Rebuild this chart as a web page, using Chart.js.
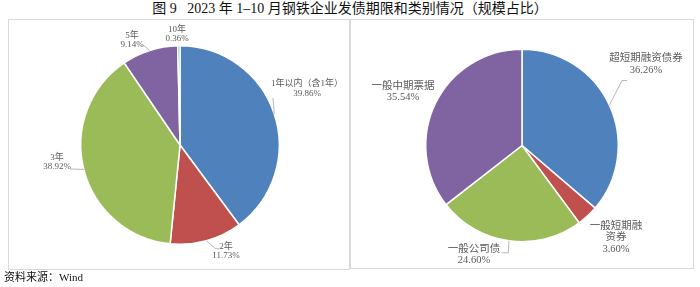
<!DOCTYPE html>
<html>
<head>
<meta charset="utf-8">
<script src="https://cdn.jsdelivr.net/npm/chart.js@4.4.0/dist/chart.umd.min.js"></script>
<style>
    html, body { margin: 0; padding: 0; background: #fff; }
    body {
        width: 700px; height: 287px; position: relative; overflow: hidden;
        font-family: "Liberation Serif", "Noto Sans CJK SC", serif;
    }
    .title {
        position: absolute; top: 0; left: 0; width: 700px; text-align: center;
        font-size: 14px; line-height: 18px; color: #111; font-weight: 400;
    }
    .panel { position: absolute; border: 1px solid #d9d9d9; box-sizing: border-box; }
    #p1 { left: 8px; top: 19px; width: 342px; height: 251px; }
    #p2 { left: 350px; top: 19px; width: 344px; height: 250px; }
    canvas { position: absolute; left: 0; top: 0; }
    .source {
        position: absolute; left: 4px; top: 269px; font-size: 11px; line-height: 16px; color: #111;
    }
</style>
</head>
<body>
<div class="title">图 9&nbsp;&nbsp;&nbsp;2023 年 1–10 月钢铁企业发债期限和类别情况（规模占比）</div>
<div class="panel" id="p1"></div>
<div class="panel" id="p2"></div>
<canvas id="term-chart" width="700" height="287"></canvas>
<canvas id="type-chart" width="700" height="287"></canvas>
<div class="source">资料来源：Wind</div>

<script>
// --- Data ---
const termLabels = ['1年以内（含1年）', '2年', '3年', '5年', '10年'];
const termShares = [39.86, 11.73, 38.92, 9.14, 0.36];

const typeLabels = ['超短期融资债券', '一般短期融资券', '一般公司债', '一般中期票据'];
const typeShares = [36.26, 3.60, 24.60, 35.54];

const termColors = ['#4f81bd', '#c0504d', '#9bbb59', '#8064a2', '#4bacc6'];
const typeColors = ['#4f81bd', '#c0504d', '#9bbb59', '#8064a2'];

// label placement (offset of text block from pie centre, leader points relative to text)
const termLabelLayout = [
    { text: [127, -56.5], leader: [[-34, 9.5]] },
    { text: [46, 106], leader: [[-11, -2.7], [-7, -2]] },
    { text: [-123, 17], leader: [[13, 7]] },
    { text: [-48, -105], leader: [[11, 5]] },
    { text: [-3, -111] }
];
const typeLabelLayout = [
    { text: [124, -81.5], leader: [[-24, 16.5], [-19, 16.5]] },
    { text: [94, 92], wrap: 5 },
    { text: [-48, 109], leader: [[34.3, -1.7], [27.7, -1.7]] },
    { text: [-119, -53.6] }
];

function wrapText(s, n) {
    if (!n || s.length <= n) return [s];
    const out = [];
    for (let i = 0; i < s.length; i += n) out.push(s.slice(i, i + n));
    return out;
}

// draws Excel-style category + percent labels with thin leader lines
const sliceLabels = {
    id: 'sliceLabels',
    afterDatasetsDraw(chart, args, opts) {
        const meta = chart.getDatasetMeta(0);
        const values = chart.data.datasets[0].data;
        const names = chart.data.labels;
        const ctx = chart.ctx;
        ctx.save();
        ctx.font = opts.font;
        ctx.fillStyle = '#595959';
        ctx.strokeStyle = '#a6a6a6';
        ctx.lineWidth = 0.8;
        ctx.textAlign = 'center';
        ctx.textBaseline = 'middle';
        meta.data.forEach((arc, i) => {
            const lay = opts.layout[i];
            const mid = (arc.startAngle + arc.endAngle) / 2;
            const tx = arc.x + lay.text[0];
            const ty = arc.y + lay.text[1];
            const lines = wrapText(names[i], lay.wrap).concat([values[i].toFixed(2) + '%']);
            const top = ty - (lines.length - 1) * opts.lineHeight / 2;
            lines.forEach((s, k) => ctx.fillText(s, tx, top + k * opts.lineHeight));
            if (lay.leader) {
                ctx.beginPath();
                ctx.moveTo(arc.x + Math.cos(mid) * arc.outerRadius, arc.y + Math.sin(mid) * arc.outerRadius);
                lay.leader.forEach(p => ctx.lineTo(tx + p[0], ty + p[1]));
                ctx.stroke();
            }
        });
        ctx.restore();
    }
};

function makePie(id, labels, values, colors, padding, layout, font, lineHeight) {
    return new Chart(document.getElementById(id), {
        type: 'pie',
        data: {
            labels: labels,
            datasets: [{
                data: values,
                backgroundColor: colors,
                borderColor: '#ffffff',
                borderWidth: 1.5
            }]
        },
        options: {
            responsive: false,
            animation: false,
            layout: { padding: padding },
            plugins: {
                legend: { display: false },
                tooltip: { enabled: false },
                sliceLabels: { layout: layout, font: font, lineHeight: lineHeight }
            }
        },
        plugins: [sliceLabels]
    });
}

makePie('term-chart', termLabels, termShares, termColors,
    { left: 80, right: 420, top: 45, bottom: 42 },
    termLabelLayout, '9px "Liberation Serif", "Noto Sans CJK SC"', 9.5);

makePie('type-chart', typeLabels, typeShares, typeColors,
    { left: 425, right: 81, top: 48, bottom: 44 },
    typeLabelLayout, '10.5px "Liberation Serif", "Noto Sans CJK SC"', 11.5);
</script>
</body>
</html>
